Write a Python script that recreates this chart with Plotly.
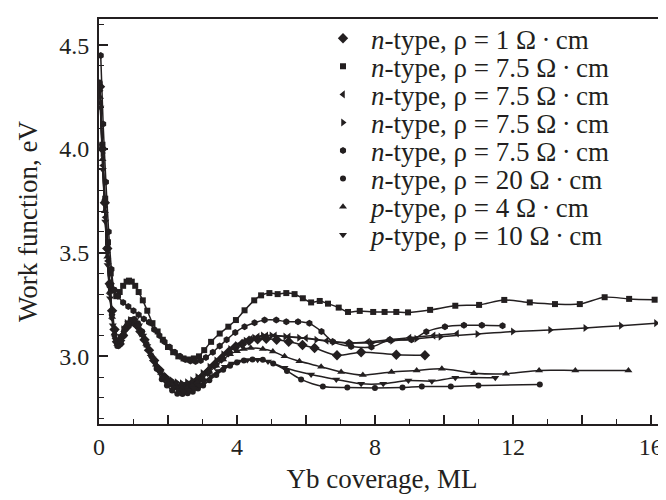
import plotly.graph_objects as go

# ---------------- data ----------------
dm_x = [0.03, 0.1, 0.17, 0.24, 0.31, 0.38, 0.45, 0.52, 0.6, 0.7, 0.8, 0.9, 1.0, 1.1, 1.2, 1.32, 1.45, 1.6, 1.75, 1.9, 2.05, 2.2, 2.35, 2.5, 2.65, 2.8, 2.95, 3.15, 3.35, 3.55, 3.75, 3.95, 4.15, 4.35, 4.6, 4.85, 5.15, 5.5, 5.9, 6.25, 6.9, 7.6, 8.62, 9.45]
dm_y = [4.3, 4.0, 3.74, 3.52, 3.35, 3.22, 3.13, 3.07, 3.06, 3.1, 3.14, 3.16, 3.165, 3.15, 3.12, 3.08, 3.03, 2.98, 2.935, 2.9, 2.875, 2.86, 2.85, 2.852, 2.86, 2.875, 2.895, 2.925, 2.96, 2.99, 3.02, 3.045, 3.06, 3.075, 3.082, 3.085, 3.08, 3.07, 3.055, 3.04, 3.005, 3.02, 3.008, 3.005]

sq_x = [0.02, 0.1, 0.18, 0.26, 0.34, 0.42, 0.5, 0.6, 0.7, 0.8, 0.87, 0.95, 1.05, 1.15, 1.27, 1.4, 1.55, 1.7, 1.85, 2.0, 2.15, 2.3, 2.45, 2.6, 2.75, 2.9, 3.05, 3.25, 3.5, 3.75, 3.97, 4.22, 4.5, 4.7, 4.94, 5.18, 5.43, 5.67, 5.91, 6.15, 6.4, 6.64, 6.95, 7.22, 7.56, 7.95, 8.28, 8.62, 8.96, 9.6, 10.33, 11.02, 11.75, 12.49, 13.22, 13.94, 14.66, 15.37, 16.11]
sq_y = [4.30, 4.02, 3.76, 3.55, 3.40, 3.32, 3.29, 3.31, 3.34, 3.36, 3.365, 3.36, 3.34, 3.31, 3.27, 3.22, 3.16, 3.12, 3.08, 3.045, 3.02, 3.0, 2.99, 2.985, 2.99, 3.0, 3.03, 3.07, 3.11, 3.143, 3.175, 3.222, 3.27, 3.294, 3.305, 3.30, 3.305, 3.30, 3.28, 3.26, 3.267, 3.254, 3.235, 3.214, 3.219, 3.214, 3.214, 3.214, 3.212, 3.224, 3.244, 3.248, 3.272, 3.26, 3.252, 3.252, 3.285, 3.277, 3.273]

lt_x = [0.04, 0.11, 0.18, 0.25, 0.32, 0.39, 0.46, 0.54, 0.62, 0.72, 0.82, 0.92, 1.02, 1.13, 1.25, 1.38, 1.52, 1.66, 1.8, 1.95, 2.1, 2.25, 2.4, 2.55, 2.7, 2.85, 3.0, 3.2, 3.4, 3.6, 3.8, 4.0, 4.2, 4.4, 4.6, 4.85, 5.1, 5.5, 6.0, 6.6, 7.2, 7.8, 8.4, 9.0, 9.7, 10.38]
lt_y = [4.22, 3.92, 3.67, 3.46, 3.3, 3.18, 3.11, 3.07, 3.08, 3.12, 3.15, 3.17, 3.165, 3.14, 3.1, 3.05, 3.0, 2.955, 2.92, 2.89, 2.87, 2.86, 2.855, 2.86, 2.87, 2.885, 2.905, 2.935, 2.965, 2.995, 3.025, 3.05, 3.07, 3.085, 3.095, 3.1, 3.1, 3.095, 3.088, 3.075, 3.065, 3.07, 3.08, 3.09, 3.1, 3.11]

rt_x = [0.03, 0.1, 0.17, 0.24, 0.31, 0.38, 0.45, 0.52, 0.6, 0.7, 0.8, 0.9, 1.0, 1.1, 1.22, 1.35, 1.5, 1.65, 1.8, 1.95, 2.1, 2.25, 2.4, 2.55, 2.7, 2.85, 3.0, 3.2, 3.4, 3.6, 3.8, 4.0, 4.25, 4.5, 4.75, 5.0, 5.4, 5.8, 6.3, 6.8, 7.3, 7.9, 8.5, 9.2, 9.9, 10.97, 12.0, 13.08, 14.1, 15.13, 16.15]
rt_y = [4.28, 3.98, 3.72, 3.5, 3.33, 3.2, 3.12, 3.08, 3.09, 3.13, 3.16, 3.175, 3.17, 3.15, 3.11, 3.06, 3.01, 2.96, 2.93, 2.90, 2.885, 2.875, 2.87, 2.875, 2.885, 2.9, 2.92, 2.95, 2.98, 3.01, 3.035, 3.055, 3.075, 3.09, 3.1, 3.1, 3.095, 3.09, 3.08, 3.07, 3.065, 3.065, 3.075, 3.085, 3.095, 3.108, 3.12, 3.127, 3.137, 3.148, 3.16]

hx_x = [0.05, 0.12, 0.2, 0.28, 0.36, 0.44, 0.55, 0.7, 0.85, 1.0, 1.15, 1.3, 1.45, 1.6, 1.75, 1.9, 2.05, 2.2, 2.35, 2.5, 2.65, 2.8, 2.95, 3.1, 3.3, 3.5, 3.7, 3.95, 4.22, 4.51, 4.8, 5.14, 5.43, 5.77, 6.1, 6.45, 6.78, 7.31, 7.9, 8.43, 9.06, 9.49, 10.03, 10.58, 11.1, 11.7]
hx_y = [4.45, 4.12, 3.84, 3.6, 3.42, 3.32, 3.29, 3.26, 3.24, 3.22, 3.20, 3.18, 3.165, 3.13, 3.10, 3.07, 3.045, 3.02, 3.0, 2.985, 2.978, 2.975, 2.98, 2.995, 3.02, 3.05, 3.08, 3.115, 3.143, 3.162, 3.175, 3.175, 3.167, 3.167, 3.159, 3.12, 3.07, 3.048, 3.045, 3.08, 3.08, 3.119, 3.143, 3.15, 3.15, 3.148]

ci_x = [0.02, 0.09, 0.16, 0.23, 0.3, 0.37, 0.45, 0.53, 0.62, 0.72, 0.82, 0.92, 1.02, 1.13, 1.25, 1.38, 1.52, 1.67, 1.82, 1.97, 2.12, 2.27, 2.42, 2.57, 2.72, 2.87, 3.02, 3.2, 3.4, 3.6, 3.8, 4.0, 4.2, 4.45, 4.75, 5.05, 5.45, 5.86, 6.49, 7.2, 8.0, 8.8, 9.36, 10.2, 11.0, 12.78]
ci_y = [4.32, 4.02, 3.75, 3.52, 3.34, 3.2, 3.1, 3.05, 3.06, 3.1, 3.15, 3.175, 3.18, 3.16, 3.12, 3.06, 3.0, 2.94, 2.89, 2.86, 2.835, 2.82, 2.818, 2.822, 2.83, 2.845, 2.86, 2.885, 2.91, 2.935, 2.955, 2.97, 2.98, 2.985, 2.984, 2.965, 2.93, 2.889, 2.855, 2.85, 2.848, 2.85, 2.855, 2.855, 2.86, 2.864]

tu_x = [0.03, 0.1, 0.17, 0.24, 0.31, 0.38, 0.45, 0.53, 0.62, 0.72, 0.82, 0.92, 1.02, 1.12, 1.24, 1.37, 1.5, 1.65, 1.8, 1.95, 2.1, 2.25, 2.4, 2.55, 2.7, 2.85, 3.0, 3.2, 3.4, 3.6, 3.8, 4.0, 4.2, 4.4, 4.75, 5.04, 5.38, 5.81, 6.44, 7.02, 7.65, 8.48, 9.21, 9.94, 10.87, 11.8, 12.76, 13.81, 15.35]
tu_y = [4.25, 3.95, 3.7, 3.48, 3.31, 3.19, 3.11, 3.06, 3.07, 3.11, 3.15, 3.17, 3.17, 3.15, 3.11, 3.06, 3.01, 2.96, 2.92, 2.89, 2.865, 2.85, 2.845, 2.848, 2.86, 2.875, 2.895, 2.925, 2.955, 2.985, 3.01, 3.025, 3.035, 3.04, 3.035, 3.024, 3.0, 2.976, 2.95, 2.925, 2.91, 2.925, 2.932, 2.94, 2.919, 2.916, 2.932, 2.932, 2.932]

dt_x = [0.04, 0.11, 0.18, 0.25, 0.32, 0.4, 0.48, 0.56, 0.65, 0.75, 0.85, 0.95, 1.05, 1.16, 1.28, 1.4, 1.55, 1.7, 1.85, 2.0, 2.15, 2.3, 2.45, 2.6, 2.75, 2.9, 3.05, 3.25, 3.45, 3.65, 3.85, 4.05, 4.3, 4.6, 4.9, 5.38, 6.15, 6.88, 7.6, 8.24, 8.97, 9.65, 10.33, 11.49]
dt_y = [4.2, 3.9, 3.65, 3.44, 3.28, 3.15, 3.08, 3.05, 3.07, 3.12, 3.16, 3.18, 3.175, 3.15, 3.1, 3.05, 2.99, 2.94, 2.9, 2.87, 2.85, 2.835, 2.83, 2.835, 2.845, 2.86, 2.88, 2.905, 2.93, 2.95, 2.965, 2.975, 2.982, 2.984, 2.975, 2.945, 2.913, 2.889, 2.868, 2.868, 2.884, 2.88, 2.897, 2.897]

legend_labels = [
    "<i>n</i>-type, ρ = 1 Ω\u2009·\u2009cm",
    "<i>n</i>-type, ρ = 7.5 Ω\u2009·\u2009cm",
    "<i>n</i>-type, ρ = 7.5 Ω\u2009·\u2009cm",
    "<i>n</i>-type, ρ = 7.5 Ω\u2009·\u2009cm",
    "<i>n</i>-type, ρ = 7.5 Ω\u2009·\u2009cm",
    "<i>n</i>-type, ρ = 20 Ω\u2009·\u2009cm",
    "<i>p</i>-type, ρ = 4 Ω\u2009·\u2009cm",
    "<i>p</i>-type, ρ = 10 Ω\u2009·\u2009cm",
]
x_tick_vals = [0, 2, 4, 6, 8, 10, 12, 14, 16]
x_tick_text = ["0", "", "4", "", "8", "", "12", "", "16"]
y_tick_vals = [3.0, 3.5, 4.0, 4.5]
y_tick_text = ["3.0", "3.5", "4.0", "4.5"]

# ---------------- figure ----------------
INK = "#231f20"
FONT = "Liberation Serif, Times New Roman, serif"
PLOT_LEFT, PLOT_RIGHT = 91, 657
PLOT_TOP, PLOT_BOTTOM = 6, 416
PLOT_W, PLOT_H = PLOT_RIGHT - PLOT_LEFT, PLOT_BOTTOM - PLOT_TOP

series = [
    (dm_x, dm_y, "diamond", 8),
    (sq_x, sq_y, "square", 6),
    (lt_x, lt_y, "triangle-left", 7),
    (rt_x, rt_y, "triangle-right", 7),
    (hx_x, hx_y, "hexagon", 7),
    (ci_x, ci_y, "circle", 6),
    (tu_x, tu_y, "triangle-up", 7),
    (dt_x, dt_y, "triangle-down", 7),
]

fig = go.Figure()
for (xs, ys, sym, sz) in series:
    fig.add_trace(go.Scatter(
        x=xs, y=ys, mode="lines+markers", showlegend=False,
        line=dict(color=INK, width=1.5, shape="spline", smoothing=0.8),
        marker=dict(symbol=sym, size=sz, color=INK),
    ))

# one single-item legend per entry so the row pitch can follow the reference
legend_layouts = {}
for i, ((xs, ys, sym, sz), lab) in enumerate(zip(series, legend_labels)):
    key = "legend" if i == 0 else f"legend{i + 1}"
    fig.add_trace(go.Scatter(
        x=[None], y=[None], mode="markers", name=lab, legend=key,
        marker=dict(symbol=sym, size=sz, color=INK),
    ))
    row_center = 26 + 28.4 * i
    legend_layouts[key] = dict(
        x=(307 - PLOT_LEFT) / PLOT_W, y=1 - (row_center - PLOT_TOP) / PLOT_H,
        xanchor="left", yanchor="middle",
        bgcolor="rgba(0,0,0,0)", itemwidth=46,
        font=dict(family=FONT, size=27, color=INK),
    )

fig.update_layout(
    width=666, height=500,
    margin=dict(l=PLOT_LEFT, r=666 - PLOT_RIGHT, t=PLOT_TOP, b=500 - PLOT_BOTTOM),
    paper_bgcolor="white", plot_bgcolor="white",
    font=dict(family=FONT, size=24, color=INK),
    showlegend=True,
    **legend_layouts,
)
fig.update_xaxes(
    range=[0, 16.41], tickmode="array", tickvals=x_tick_vals, ticktext=x_tick_text,
    ticks="inside", ticklen=9, tickwidth=1.5, tickcolor=INK,
    minor=dict(tickmode="linear", tick0=0, dtick=1, ticks="inside", ticklen=5, tickwidth=1.2, tickcolor=INK),
    showline=True, linewidth=2, linecolor=INK, mirror=True,
    showgrid=False, zeroline=False, automargin=False,
    tickfont=dict(family=FONT, size=24, color=INK),
    title=dict(text="Yb coverage, ML", font=dict(family=FONT, size=27, color=INK), standoff=10),
)
fig.update_yaxes(
    range=[2.674, 4.626], tickmode="array", tickvals=y_tick_vals, ticktext=y_tick_text,
    ticks="inside", ticklen=9, tickwidth=1.5, tickcolor=INK,
    minor=dict(tickmode="linear", tick0=3.0, dtick=0.1, ticks="inside", ticklen=5, tickwidth=1.2, tickcolor=INK),
    showline=True, linewidth=2, linecolor=INK, mirror=True,
    showgrid=False, zeroline=False, ticklabelstandoff=3, automargin=False,
    tickfont=dict(family=FONT, size=24, color=INK),
    title=dict(text="Work function, eV", font=dict(family=FONT, size=27, color=INK), standoff=14),
)

fig.write_html("out.html")
